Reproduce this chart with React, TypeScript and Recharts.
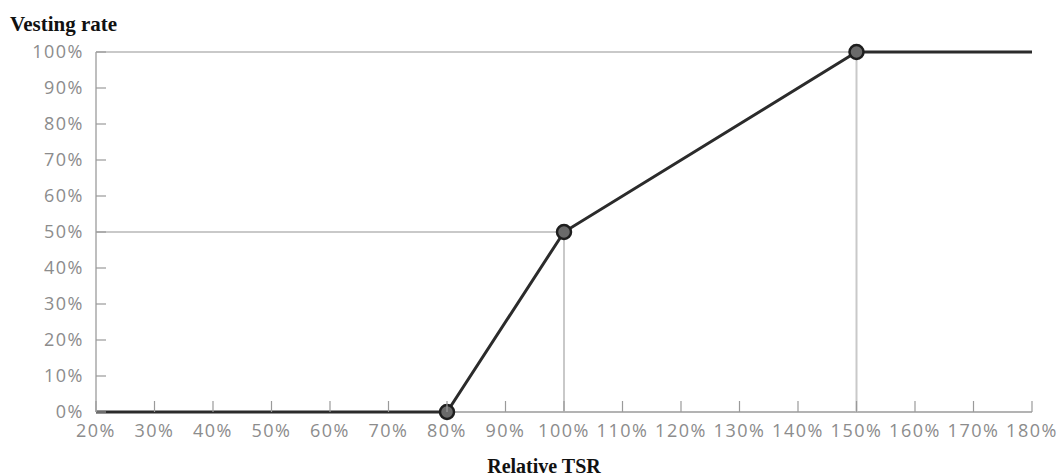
import React from 'react';
import { Line, LineChart, ReferenceLine, XAxis, YAxis } from 'recharts';

// vesting schedule: relative TSR (%) -> vesting rate (%)
const tsr = [20, 80, 100, 150, 180];
const vesting = [0, 0, 50, 100, 100];
const markerTsr = [80, 100, 150];

const xTicks = [20, 30, 40, 50, 60, 70, 80, 90, 100, 110, 120, 130, 140, 150, 160, 170, 180];
const yTicks = [0, 10, 20, 30, 40, 50, 60, 70, 80, 90, 100];

const data = tsr.map((t, i) => ({ tsr: t, vesting: vesting[i] }));

const AXIS_COLOR = '#9a9a9a';
const GUIDE_COLOR = '#c9c9c9';
const LINE_COLOR = '#2b2b2b';
const TICK_FONT = {
  fontFamily: '"Open Sans", sans-serif',
  fontSize: 18,
  letterSpacing: 1.5,
  fill: '#8c8c8c',
} as const;
const TITLE_STYLE = {
  fontFamily: '"Liberation Serif", "Times New Roman", serif',
  fontWeight: 700,
  color: '#111',
  position: 'absolute',
  whiteSpace: 'nowrap',
} as const;

// ticks point into the plot, labels sit outside
function XTick(props: any) {
  const { x, y, payload } = props;
  return (
    <g>
      <line x1={x} x2={x} y1={y} y2={y - 11} stroke={AXIS_COLOR} strokeWidth={1.2} />
      <text x={x} y={y + 19} dy="0.35em" textAnchor="middle" {...TICK_FONT}>
        {`${payload.value}%`}
      </text>
    </g>
  );
}

function YTick(props: any) {
  const { x, y, payload } = props;
  return (
    <g>
      <line x1={x} x2={x + 10} y1={y} y2={y} stroke={AXIS_COLOR} strokeWidth={1.2} />
      <text x={x - 12} y={y} dy="0.35em" textAnchor="end" {...TICK_FONT}>
        {`${payload.value}%`}
      </text>
    </g>
  );
}

function Marker(props: any) {
  const { cx, cy, payload, index } = props;
  if (!markerTsr.includes(payload.tsr)) return <g key={index} />;
  return <circle key={index} cx={cx} cy={cy} r={7} fill="#6a6a6a" stroke="#1e1e1e" strokeWidth={2.5} />;
}

export default function App() {
  const [, p100, p150] = markerTsr;
  const half = vesting[2];
  const full = vesting[3];
  return (
    <div style={{ position: 'relative', width: 1062, height: 475 }}>
      <style>{'body { margin: 0; }'}</style>
      <div style={{ ...TITLE_STYLE, fontSize: 21, lineHeight: '21px', left: 10, top: 14 }}>
        Vesting rate
      </div>
      <LineChart
        width={1062}
        height={475}
        data={data}
        margin={{ top: 52, right: 30, bottom: 33, left: 0 }}
      >
        <XAxis
          type="number"
          dataKey="tsr"
          domain={[xTicks[0], xTicks[xTicks.length - 1]]}
          ticks={xTicks}
          interval={0}
          height={30}
          tickSize={0}
          tickMargin={0}
          tickLine={false}
          tick={XTick}
          axisLine={false}
        />
        <YAxis
          type="number"
          domain={[yTicks[0], yTicks[yTicks.length - 1]]}
          ticks={yTicks}
          interval={0}
          width={96}
          tickSize={0}
          tickMargin={0}
          tickLine={false}
          tick={YTick}
          axisLine={{ stroke: '#a8a8a8', strokeWidth: 1.5 }}
        />
        {/* baseline drawn as a reference line so the data line sits on top of it */}
        <ReferenceLine y={yTicks[0]} stroke={AXIS_COLOR} strokeWidth={1.5} />
        <ReferenceLine
          segment={[{ x: xTicks[0], y: full }, { x: p150, y: full }]}
          stroke={GUIDE_COLOR}
          strokeWidth={2}
        />
        <ReferenceLine
          segment={[{ x: xTicks[0], y: half }, { x: p100, y: half }]}
          stroke={GUIDE_COLOR}
          strokeWidth={2}
        />
        <ReferenceLine
          segment={[{ x: p100, y: 0 }, { x: p100, y: half }]}
          stroke={GUIDE_COLOR}
          strokeWidth={2}
        />
        <ReferenceLine
          segment={[{ x: p150, y: 0 }, { x: p150, y: full }]}
          stroke={GUIDE_COLOR}
          strokeWidth={2}
        />
        <Line
          type="linear"
          dataKey="vesting"
          stroke={LINE_COLOR}
          strokeWidth={3}
          dot={Marker}
          activeDot={false}
          isAnimationActive={false}
        />
      </LineChart>
      <div
        style={{
          ...TITLE_STYLE,
          fontSize: 20,
          lineHeight: '20px',
          left: 544,
          top: 456,
          transform: 'translateX(-50%)',
        }}
      >
        Relative TSR
      </div>
    </div>
  );
}
